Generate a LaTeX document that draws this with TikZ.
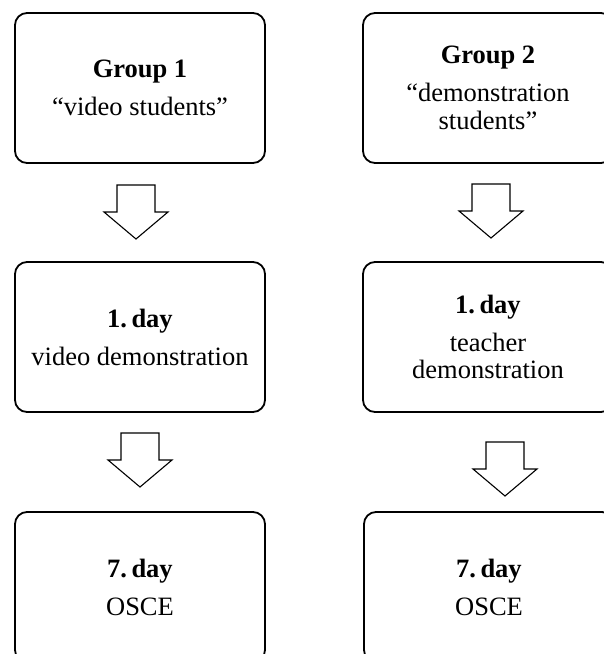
\documentclass[tikz,border=0pt]{standalone}
\usepackage{fontspec}
\setmainfont{Liberation Serif}
\begin{document}
\begin{tikzpicture}[x=1pt,y=-1pt,
  stagebox/.style={draw, line width=1.8pt, rounded corners=12pt, minimum width=250pt, minimum height=150pt,
    align=center, inner sep=0pt, font=\fontsize{26.5}{27.5}\selectfont},
  blockarrow/.pic={\draw[line width=1.1pt, line join=miter] (-19,0) -- (-19,27) -- (-32,27) -- (0,54) -- (32,27) -- (19,27) -- (19,0) -- cycle;}
]
\useasboundingbox (0,0) rectangle (604,654);
\clip (0,0) rectangle (604,654);
\fill[white] (0,0) rectangle (604,654);

\node[stagebox] (g1) at (140,88) {\textbf{Group 1}\\[10.5pt]“video students”};
\node[stagebox] (g2) at (488,88) {\textbf{Group 2}\\[10.5pt]“demonstration\\students”};
\node[stagebox] (d1a) at (140,337) {\textbf{1.\,day}\\[10.5pt]video demonstration};
\node[stagebox] (d1b) at (488,337) {\textbf{1.\,day}\\[10.5pt]teacher\\demonstration};
\node[stagebox] (d7a) at (140,587) {\textbf{7.\,day}\\[10.5pt]OSCE};
\node[stagebox] (d7b) at (489,587) {\textbf{7.\,day}\\[10.5pt]OSCE};

\coordinate (a1) at (136,185);
\coordinate (a2) at (491,184);
\coordinate (a3) at (140,433);
\coordinate (a4) at (505,442);
\pic at (a1) {blockarrow};
\pic at (a2) {blockarrow};
\pic at (a3) {blockarrow};
\pic at (a4) {blockarrow};
\end{tikzpicture}
\end{document}
